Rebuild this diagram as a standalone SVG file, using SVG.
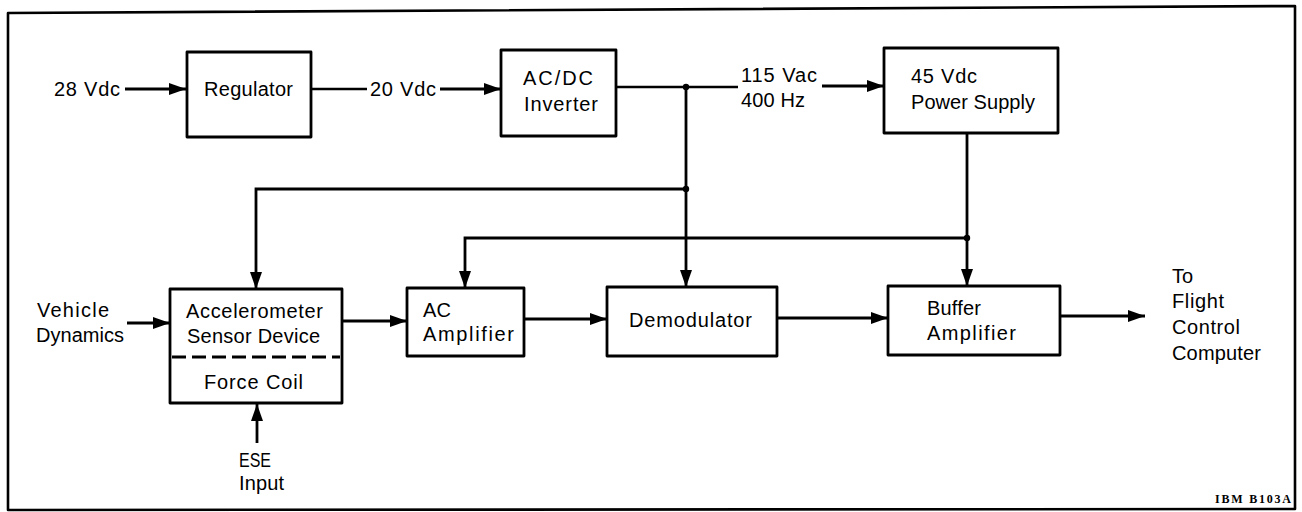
<svg xmlns="http://www.w3.org/2000/svg" width="1302" height="512" viewBox="0 0 1302 512">
<defs>
<style>
.frame{fill:none;stroke:#000;stroke-width:2.6;stroke-linejoin:round}
.box{fill:#fff;stroke:#000;stroke-width:2.8;stroke-linejoin:round}
.dash{stroke:#000;stroke-width:3;stroke-dasharray:14 6;fill:none}
.ln{fill:none;stroke:#000;stroke-width:2.4}
.arr{fill:none;stroke:#000;stroke-width:2.8;marker-end:url(#ah)}
.dot{fill:#000}
text{font-family:"Liberation Sans",Arial,sans-serif;font-size:20px;fill:#000}
.tag{font-family:"Liberation Serif","Times New Roman",serif;font-size:12px;font-weight:bold}
</style>
<marker id="ah" markerUnits="userSpaceOnUse" markerWidth="18" markerHeight="12" refX="17" refY="6" orient="auto">
<path d="M0,0 L17,6 L0,12 Z" fill="#000"/>
</marker>
</defs>
<rect width="1302" height="512" fill="#fff"/>
<polygon class="frame" points="8,13 1295,6 1295,509 8,510"/>

<g id="connectors">
<line class="arr" x1="125" y1="89" x2="186" y2="89"/>
<line class="ln" x1="311" y1="89" x2="367" y2="89"/>
<line class="arr" x1="440" y1="89" x2="501" y2="89"/>
<line class="ln" x1="616" y1="87" x2="738" y2="87"/>
<line class="arr" x1="822" y1="86" x2="884" y2="86"/>
<line class="arr" x1="686" y1="87" x2="686" y2="287"/>
<polyline class="arr" points="686,189 256,189 256,289"/>
<line class="arr" x1="967" y1="133" x2="967" y2="286"/>
<polyline class="arr" points="967,238 465,238 465,288"/>
<line class="arr" x1="127" y1="323" x2="170" y2="323"/>
<line class="arr" x1="342" y1="321" x2="407" y2="321"/>
<line class="arr" x1="524" y1="319" x2="607" y2="319"/>
<line class="arr" x1="777" y1="318" x2="888" y2="318"/>
<line class="arr" x1="1060" y1="316" x2="1145" y2="316"/>
<line class="arr" x1="257" y1="443" x2="257" y2="404"/>
<circle class="dot" cx="686" cy="87" r="3.2"/>
<circle class="dot" cx="686" cy="189" r="3.2"/>
<circle class="dot" cx="967" cy="238" r="3.2"/>
</g>

<g id="labels">
<text x="54" y="96" textLength="66" lengthAdjust="spacing">28 Vdc</text>
<text x="370" y="96" textLength="66" lengthAdjust="spacing">20 Vdc</text>
<text x="741" y="82" textLength="76" lengthAdjust="spacing">115 Vac</text>
<text x="741" y="107" textLength="64" lengthAdjust="spacing">400 Hz</text>
<text x="37" y="317" textLength="72" lengthAdjust="spacing">Vehicle</text>
<text x="36" y="342" textLength="88" lengthAdjust="spacing">Dynamics</text>
<text x="1172" y="283">To</text>
<text x="1172" y="308" textLength="52" lengthAdjust="spacing">Flight</text>
<text x="1172" y="334" textLength="68" lengthAdjust="spacing">Control</text>
<text x="1172" y="360" textLength="89" lengthAdjust="spacing">Computer</text>
<text x="239" y="467" textLength="32" lengthAdjust="spacingAndGlyphs">ESE</text>
<text x="239" y="490" textLength="45" lengthAdjust="spacing">Input</text>
<text class="tag" x="1215" y="503" textLength="76" lengthAdjust="spacing">IBM B103A</text>
</g>

<g id="regulator">
<rect class="box" x="187" y="52" width="124" height="85"/>
<text x="204" y="96" textLength="89" lengthAdjust="spacing">Regulator</text>
</g>

<g id="inverter">
<rect class="box" x="501" y="50" width="115" height="86"/>
<text x="523" y="85" textLength="70" lengthAdjust="spacing">AC/DC</text>
<text x="524" y="111" textLength="74" lengthAdjust="spacing">Inverter</text>
</g>

<g id="power-supply">
<rect class="box" x="884" y="48" width="174" height="85"/>
<text x="911" y="83" textLength="66" lengthAdjust="spacing">45 Vdc</text>
<text x="911" y="109" textLength="124" lengthAdjust="spacing">Power Supply</text>
</g>

<g id="accelerometer">
<rect class="box" x="170" y="289" width="172" height="114"/>
<line class="dash" x1="172" y1="357" x2="340" y2="357"/>
<text x="186" y="318" textLength="137" lengthAdjust="spacing">Accelerometer</text>
<text x="187" y="343" textLength="133" lengthAdjust="spacing">Sensor Device</text>
<text x="204" y="389" textLength="99" lengthAdjust="spacing">Force Coil</text>
</g>

<g id="ac-amplifier">
<rect class="box" x="407" y="288" width="117" height="68"/>
<text x="423" y="317" textLength="28" lengthAdjust="spacing">AC</text>
<text x="423" y="341" textLength="91" lengthAdjust="spacing">Amplifier</text>
</g>

<g id="demodulator">
<rect class="box" x="607" y="287" width="170" height="69"/>
<text x="629" y="327" textLength="123" lengthAdjust="spacing">Demodulator</text>
</g>

<g id="buffer-amplifier">
<rect class="box" x="888" y="286" width="172" height="69"/>
<text x="927" y="315" textLength="54" lengthAdjust="spacing">Buffer</text>
<text x="927" y="340" textLength="89" lengthAdjust="spacing">Amplifier</text>
</g>
</svg>
